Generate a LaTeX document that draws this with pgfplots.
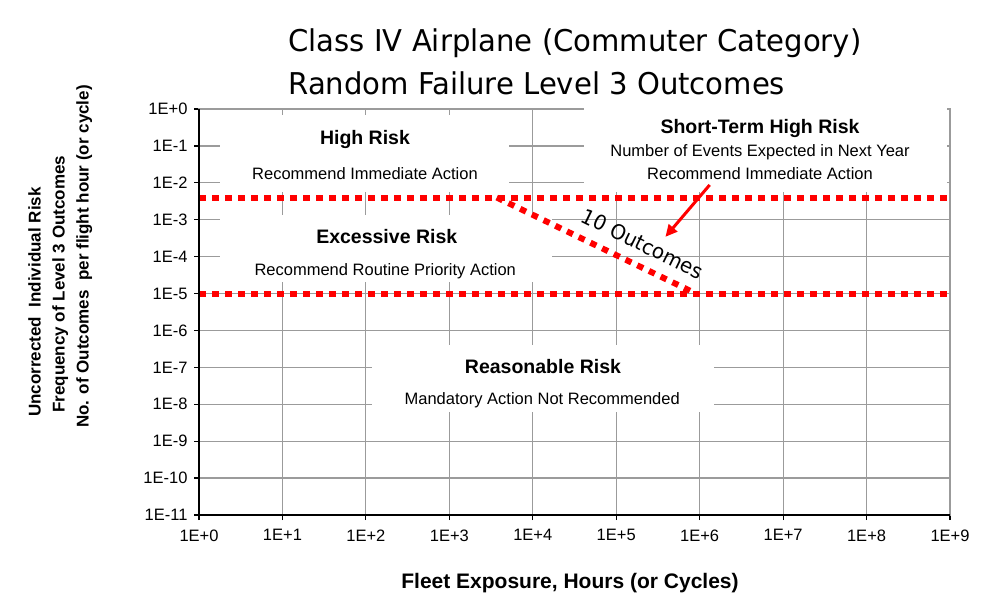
\documentclass[border=0pt]{standalone}
\usepackage{fontspec}
\setmainfont{Liberation Sans}
\newfontfamily\titlefont[FakeStretch=0.97]{DejaVu Sans}
\usepackage{pgfplots}
\pgfplotsset{compat=1.18}
\usetikzlibrary{arrows.meta}

\definecolor{riskred}{RGB}{255,0,0}
\definecolor{gridgray}{RGB}{155,155,155}

\newcommand{\hdfont}{\bfseries\fontsize{19.5}{22}\selectfont}
\newcommand{\txfont}{\fontsize{16.5}{20}\selectfont}

\begin{document}
\begin{tikzpicture}
\begin{axis}[
  at={(199pt,93pt)}, anchor=south west,
  width=751pt, height=406pt, scale only axis,
  xmode=log, ymode=log,
  xmin=1, xmax=1e9, ymin=1e-11, ymax=1,
  xtick={1,1e1,1e2,1e3,1e4,1e5,1e6,1e7,1e8,1e9},
  xticklabels={1E+0,1E+1,1E+2,1E+3,1E+4,1E+5,1E+6,1E+7,1E+8,1E+9},
  ytick={1e-11,1e-10,1e-9,1e-8,1e-7,1e-6,1e-5,1e-4,1e-3,1e-2,1e-1,1},
  yticklabels={1E-11,1E-10,1E-9,1E-8,1E-7,1E-6,1E-5,1E-4,1E-3,1E-2,1E-1,1E+0},
  xminorticks=false, yminorticks=false,
  grid=major,
  major grid style={gridgray, line width=1.2pt},
  axis line style={gridgray, line width=1.2pt},
  tick pos=left, tick align=outside,
  major tick length=5pt,
  tick style={black, line width=1.2pt},
  tick label style={font=\fontsize{16.5}{19}\selectfont},
  xticklabel style={yshift=-6pt},
  yticklabel style={xshift=-3pt},
  clip=false,
]
% white boxes behind the zone texts
\fill[white] (rel axis cs:0.028,0.796) rectangle (rel axis cs:0.413,0.985);
\fill[white] (rel axis cs:0.028,0.574) rectangle (rel axis cs:0.470,0.739);
\fill[white] (rel axis cs:0.513,0.796) rectangle (rel axis cs:0.996,1.003);
\fill[white] (rel axis cs:0.230,0.254) rectangle (rel axis cs:0.686,0.419);

% risk boundaries
\addplot[riskred, line width=6pt, line cap=butt, dash pattern=on 6.5pt off 6.5pt]
  coordinates {(1,4e-3) (1e9,4e-3)};
\addplot[riskred, line width=6pt, line cap=butt, dash pattern=on 6.5pt off 6.5pt]
  coordinates {(1,1e-5) (1e9,1e-5)};
\addplot[riskred, line width=6pt, line cap=butt, dash pattern=on 6.5pt off 6.5pt]
  coordinates {(3.7e3,4e-3) (9e5,1e-5)};

\node[font=\hdfont] at (rel axis cs:0.221,0.926) {High Risk};
\node[font=\txfont] at (rel axis cs:0.221,0.842) {Recommend Immediate Action};
\node[font=\hdfont] at (rel axis cs:0.250,0.685) {Excessive Risk};
\node[font=\txfont] at (rel axis cs:0.248,0.601) {Recommend Routine Priority Action};
\node[font=\hdfont] at (rel axis cs:0.747,0.953) {Short-Term High Risk};
\node[font=\txfont] at (rel axis cs:0.747,0.894) {Number of Events Expected in Next Year};
\node[font=\txfont] at (rel axis cs:0.747,0.842) {Recommend Immediate Action};
\node[font=\hdfont] at (rel axis cs:0.458,0.365) {Reasonable Risk};
\node[font=\txfont] at (rel axis cs:0.457,0.283) {Mandatory Action Not Recommended};
\node[font=\titlefont\fontsize{20.5}{23}\selectfont, rotate=-26, inner sep=0pt] at (rel axis cs:0.591,0.668) {10 Outcomes};

\draw[riskred, line width=3pt, -{Triangle[length=12pt,width=11pt]}]
  (rel axis cs:0.680,0.813) -- (rel axis cs:0.621,0.685);

% black left and bottom axis lines
\draw[black, line width=1.5pt] (rel axis cs:0,1) -- (rel axis cs:0,0) -- (rel axis cs:1,0);
\end{axis}

\node[anchor=base west, font=\titlefont\fontsize{30}{36}\selectfont] at (285pt,556pt)
  {Class IV Airplane (Commuter Category)};
\node[anchor=base west, font=\titlefont\fontsize{30}{36}\selectfont] at (285pt,513pt)
  {Random Failure Level 3 Outcomes};

\begin{scope}[every node/.style={rotate=90, anchor=mid west, inner sep=0pt, font=\bfseries\fontsize{17}{24}\selectfont}]
\node at (38pt,191pt) {Uncorrected\ \ Individual Risk};
\node at (62pt,195pt) {Frequency of Level 3 Outcomes};
\node at (86pt,180pt) {No. of Outcomes\ \ per flight hour (or cycle)};
\end{scope}

\node[anchor=base, font=\bfseries\fontsize{21}{25}\selectfont] at (570pt,20pt)
  {Fleet Exposure, Hours (or Cycles)};

\pgfresetboundingbox
\path (0,0) rectangle (1008pt,608pt);
\end{tikzpicture}
\end{document}
